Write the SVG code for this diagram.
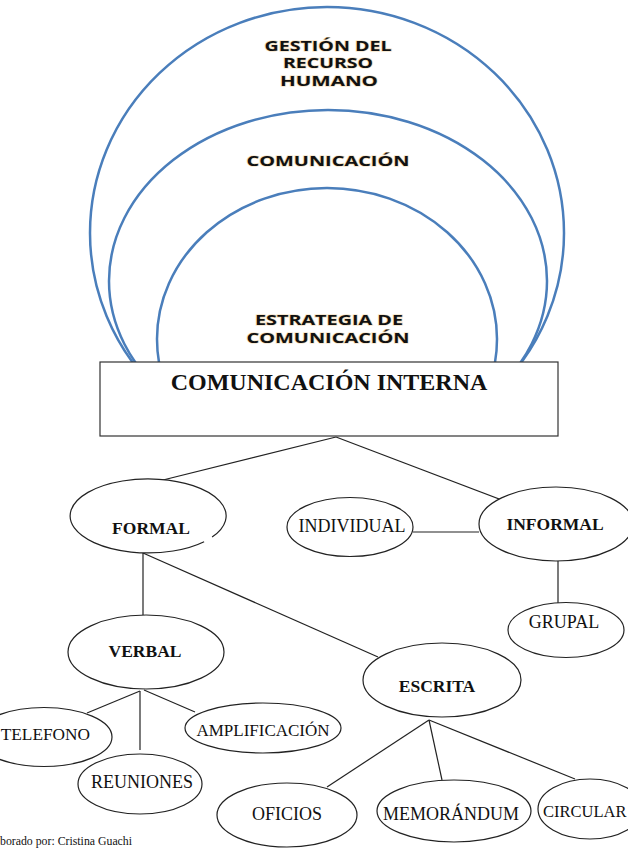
<svg xmlns="http://www.w3.org/2000/svg" width="628" height="849" viewBox="0 0 628 849">
<style>
.ring{fill:none;stroke:#4a7ebb;stroke-width:2.5}
.rt{font-family:"Open Sans","DejaVu Sans",sans-serif;font-weight:bold;font-size:13.5px;fill:#111;text-anchor:middle;paint-order:stroke;stroke:#f2dcb8;stroke-width:1.2}
.node{fill:#fff;stroke:#222;stroke-width:1.2}
.b{font-family:"Liberation Serif","Times New Roman",serif;font-weight:bold;font-size:17.5px;fill:#111;text-anchor:middle}
.r{font-family:"Liberation Serif","Times New Roman",serif;font-size:18px;fill:#111;text-anchor:middle}
.con line{stroke:#222;stroke-width:1.2}
</style>
<defs>
<clipPath id="top"><rect x="0" y="0" width="628" height="362"/></clipPath>
</defs>
<rect width="628" height="849" fill="#fff"/>
<g id="rings" clip-path="url(#top)">
<ellipse class="ring" cx="327" cy="233" rx="237" ry="226"/>
<ellipse class="ring" cx="328" cy="281" rx="219" ry="171"/>
<ellipse class="ring" cx="327" cy="339" rx="170" ry="151"/>
</g>
<g id="ring-labels">
<text class="rt" x="328" y="51" textLength="127" lengthAdjust="spacingAndGlyphs">GESTIÓN DEL</text>
<text class="rt" x="328" y="68" textLength="90" lengthAdjust="spacingAndGlyphs">RECURSO</text>
<text class="rt" x="329" y="86" textLength="98" lengthAdjust="spacingAndGlyphs">HUMANO</text>
<text class="rt" x="328" y="166" textLength="163" lengthAdjust="spacingAndGlyphs">COMUNICACIÓN</text>
<text class="rt" x="329" y="325" textLength="148" lengthAdjust="spacingAndGlyphs">ESTRATEGIA DE</text>
<text class="rt" x="328" y="343" textLength="163" lengthAdjust="spacingAndGlyphs">COMUNICACIÓN</text>
</g>
<g id="connectors" class="con">
<line x1="336" y1="437" x2="163" y2="480"/>
<line x1="336" y1="437" x2="520" y2="507"/>
<line x1="143" y1="553" x2="143" y2="615"/>
<line x1="143" y1="553" x2="378" y2="657"/>
<line x1="413" y1="532" x2="479" y2="532"/>
<line x1="558" y1="561" x2="558" y2="603"/>
<line x1="140" y1="691" x2="87" y2="713"/>
<line x1="140" y1="691" x2="140" y2="750"/>
<line x1="144" y1="690" x2="195" y2="712"/>
<line x1="429" y1="720" x2="327" y2="787"/>
<line x1="429" y1="720" x2="442" y2="780"/>
<line x1="429" y1="720" x2="575" y2="779"/>
</g>
<g id="box">
<rect x="100" y="362" width="458" height="74" fill="#fff" stroke="#333" stroke-width="1.2"/>
<text class="b" x="329" y="390" style="font-size:24px">COMUNICACIÓN INTERNA</text>
</g>
<g id="formal">
<path d="M204.1,541.7 A78,37 0 1 1 212.1,537.1" fill="#fff" stroke="#222" stroke-width="1.2"/>
<text class="b" x="151" y="534">FORMAL</text>
</g>
<g id="individual">
<ellipse class="node" cx="350" cy="527" rx="63" ry="29.5"/>
<text class="r" x="352" y="532">INDIVIDUAL</text>
</g>
<g id="informal">
<ellipse class="node" cx="556" cy="524" rx="77" ry="37"/>
<text class="b" x="555" y="530">INFORMAL</text>
</g>
<g id="grupal">
<ellipse class="node" cx="566" cy="630" rx="58" ry="27.5"/>
<text class="r" x="564" y="628">GRUPAL</text>
</g>
<g id="verbal">
<ellipse class="node" cx="146" cy="652" rx="78" ry="37"/>
<text class="b" x="145" y="657">VERBAL</text>
</g>
<g id="escrita">
<ellipse class="node" cx="442" cy="680" rx="79" ry="37"/>
<text class="b" x="437" y="692">ESCRITA</text>
</g>
<g id="telefono">
<ellipse class="node" cx="44" cy="737" rx="68" ry="29.5"/>
<text class="r" x="90" y="740" style="text-anchor:end;font-size:17.3px">TELEFONO</text>
</g>
<g id="reuniones">
<ellipse class="node" cx="140" cy="784" rx="62" ry="30"/>
<text class="r" x="142" y="788">REUNIONES</text>
</g>
<g id="amplificacion">
<ellipse class="node" cx="263" cy="728" rx="78" ry="25"/>
<text class="r" x="263" y="736" style="font-size:17px">AMPLIFICACIÓN</text>
</g>
<g id="oficios">
<ellipse class="node" cx="287" cy="815" rx="70" ry="32"/>
<text class="r" x="287" y="820">OFICIOS</text>
</g>
<g id="memorandum">
<ellipse class="node" cx="454" cy="811" rx="77" ry="31"/>
<text class="r" x="451" y="820">MEMORÁNDUM</text>
</g>
<g id="circular">
<ellipse class="node" cx="590" cy="809" rx="52" ry="30"/>
<text class="r" x="543" y="817" style="text-anchor:start;font-size:16.5px">CIRCULAR</text>
</g>
<text x="0" y="845" style="font-family:'Liberation Serif','Times New Roman',serif;font-size:11.8px;fill:#111">borado por: Cristina Guachi</text>
</svg>
